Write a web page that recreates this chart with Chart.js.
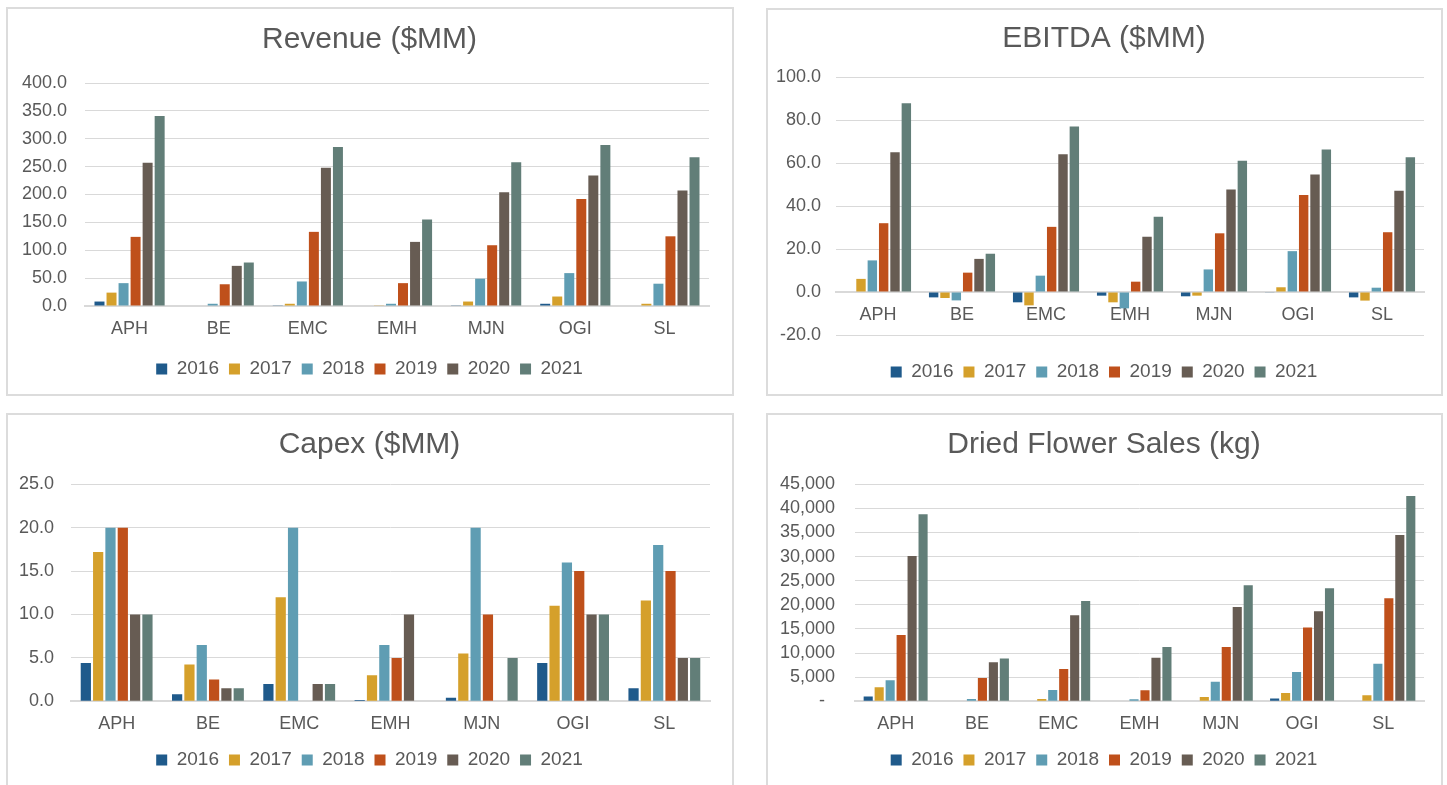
<!DOCTYPE html>
<html>
<head>
<meta charset="utf-8">
<script src="https://cdn.jsdelivr.net/npm/chart.js@4.4.1/dist/chart.umd.min.js"></script>
<style>
  body { margin: 0; background: #fff; width: 1447px; height: 785px; overflow: hidden; position: relative; }
  .box { position: absolute; box-sizing: border-box; border: 2px solid #dcdcdc; }
  canvas { position: absolute; }
</style>
</head>
<body>
<div class="box" style="left:6px;top:7px;width:728px;height:389px"></div>
<div class="box" style="left:766px;top:8px;width:677px;height:388px"></div>
<div class="box" style="left:6px;top:413px;width:728px;height:390px"></div>
<div class="box" style="left:766px;top:413px;width:677px;height:390px"></div>

<canvas id="revenueChart" width="727" height="388" style="left:6px;top:7px"></canvas>
<canvas id="ebitdaChart" width="676" height="387" style="left:766px;top:8px"></canvas>
<canvas id="capexChart" width="727" height="372" style="left:6px;top:413px"></canvas>
<canvas id="flowerChart" width="676" height="372" style="left:766px;top:413px"></canvas>

<script>
const categories = ['APH', 'BE', 'EMC', 'EMH', 'MJN', 'OGI', 'SL'];
const years = ['2016', '2017', '2018', '2019', '2020', '2021'];
const yearColors = ['#1f5a8b', '#d5a02b', '#5f9db3', '#bf501b', '#675c53', '#627e78'];

// one row per year, one value per company
const revenue = [
  [8, 0, 0.5, 0, 0.5, 4, 0],
  [24, 0, 4, 0.5, 8, 17, 4],
  [41, 4, 44, 4, 49, 59, 40],
  [124, 39, 133, 41, 109, 192, 125],
  [257, 72, 248, 115, 204, 234, 207],
  [341, 78, 285, 155, 258, 289, 267]
];
const ebitda = [
  [0, -2.5, -4.8, -1.7, -2, -0.3, -2.5],
  [6.1, -2.8, -6.2, -4.8, -1.7, 2.2, -4],
  [14.7, -3.9, 7.6, -7.6, 10.5, 19, 2],
  [32, 9, 30.3, 4.8, 27.3, 45.1, 27.8],
  [65, 15.4, 64.1, 25.7, 47.7, 54.6, 47.1],
  [87.8, 17.8, 77, 35, 61, 66.3, 62.7]
];
const capex = [
  [4.4, 0.8, 2, 0.15, 0.4, 4.4, 1.5],
  [17.2, 4.25, 12, 3, 5.5, 11, 11.6],
  [20, 6.5, 20, 6.5, 20, 16, 18],
  [20, 2.5, 0, 5, 10, 15, 15],
  [10, 1.5, 2, 10, 0, 10, 5],
  [10, 1.5, 2, 0, 5, 10, 5]
];
const flowerSales = [
  [1000, 0, 0, 0, 0, 600, 0],
  [2900, 0, 480, 0, 900, 1730, 1240],
  [4350, 480, 2350, 420, 4080, 6080, 7810],
  [13750, 4840, 6700, 2280, 11270, 15280, 21360],
  [30140, 8090, 17830, 9050, 19560, 18660, 34490],
  [38780, 8850, 20810, 11270, 24050, 23430, 42580]
];

Chart.defaults.font.family = "'Liberation Sans', Arial, sans-serif";
Chart.defaults.color = '#595959';

const oneDecimal = v => v.toFixed(1);
const thousands = v => v === 0 ? '-  ' : v.toLocaleString('en-US');

function barChart(id, title, series, y, g) {
  return new Chart(document.getElementById(id), {
    type: 'bar',
    data: {
      labels: categories,
      datasets: series.map((vals, i) => ({
        label: years[i],
        data: vals,
        backgroundColor: yearColors[i],
        categoryPercentage: 0.81,
        barPercentage: 0.83
      }))
    },
    options: {
      responsive: false,
      animation: false,
      devicePixelRatio: 1,
      layout: { padding: { left: 0, right: 0, top: 0, bottom: g.bottom } },
      plugins: {
        title: {
          display: true, text: title, color: '#595959',
          font: { size: 30, weight: 'normal' },
          padding: { top: g.titleTop, bottom: g.titleBottom }
        },
        legend: {
          position: 'bottom',
          title: { display: !!g.legendGap, text: '', font: { size: 1 }, padding: { top: g.legendGap || 0, bottom: 0 } },
          labels: { boxWidth: 11, boxHeight: 11, padding: 10, font: { size: 19 }, color: '#595959' }
        },
        tooltip: { enabled: false }
      },
      scales: {
        x: {
          position: g.crossAtZero ? { y: 0 } : 'bottom',
          grid: { display: false },
          border: { display: true, color: '#d9d9d9', width: 2 },
          ticks: { padding: 4, font: { size: 18 } },
          afterFit: s => { s.height = g.xHeight; }
        },
        y: {
          min: y.min, max: y.max,
          grid: { color: '#d9d9d9', drawTicks: false },
          border: { display: false },
          ticks: { stepSize: y.step, autoSkip: false, padding: g.tickPad, font: { size: 18 }, callback: y.fmt },
          afterFit: s => { s.width = g.yWidth; }
        },
        // empty axis that only keeps the right margin, so title and legend stay centred
        yRight: {
          position: 'right',
          grid: { display: false },
          border: { display: false },
          ticks: { display: false },
          afterFit: s => { s.width = g.right; }
        }
      }
    }
  });
}

barChart('revenueChart', 'Revenue ($MM)', revenue,
  { min: 0, max: 400, step: 50, fmt: oneDecimal },
  { right: 24, bottom: 6.5, titleTop: 15, titleBottom: 25, xHeight: 43.5, yWidth: 79, tickPad: 18 });

barChart('ebitdaChart', 'EBITDA ($MM)', ebitda,
  { min: -20, max: 100, step: 20, fmt: oneDecimal },
  { right: 18, bottom: 3.5, titleTop: 12.6, titleBottom: 20.4, xHeight: 0, yWidth: 70, tickPad: 15, crossAtZero: true, legendGap: 16.3 });

barChart('capexChart', 'Capex ($MM)', capex,
  { min: 0, max: 25, step: 5, fmt: oneDecimal },
  { right: 23, bottom: 5.5, titleTop: 14, titleBottom: 21.3, xHeight: 39.2, yWidth: 65, tickPad: 17 });

barChart('flowerChart', 'Dried Flower Sales (kg)', flowerSales,
  { min: 0, max: 45000, step: 5000, fmt: thousands },
  { right: 18, bottom: 5.5, titleTop: 14, titleBottom: 21.3, xHeight: 39.2, yWidth: 89, tickPad: 20 });
</script>
</body>
</html>
